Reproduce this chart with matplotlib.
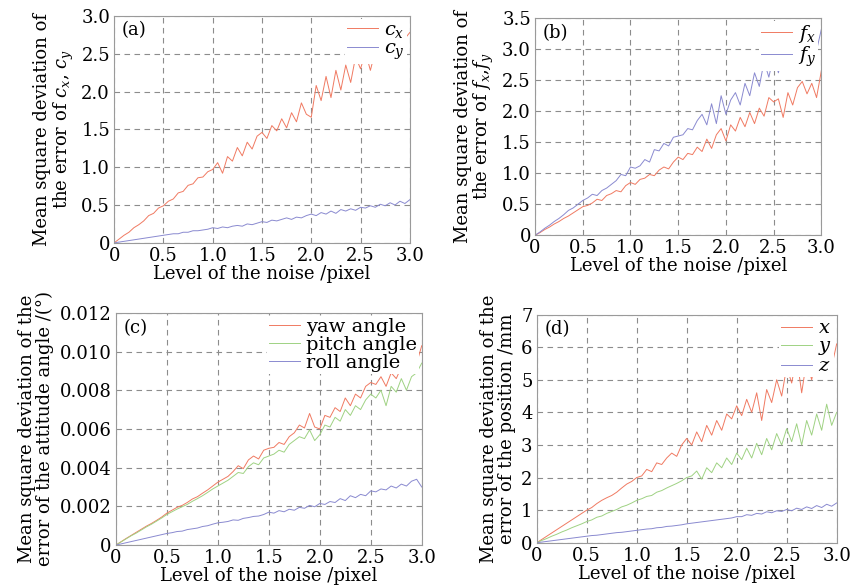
import numpy as np
import matplotlib
matplotlib.use('Agg')
from matplotlib import pyplot as plt

plt.rcParams['font.family'] = 'DejaVu Serif'
plt.rcParams['mathtext.fontset'] = 'dejavuserif'

noise = np.arange(61) * 0.05  # level of the noise /pixel

# (a) principal point
cx = [0.00, 0.05, 0.10, 0.14, 0.20, 0.24, 0.29, 0.36, 0.39, 0.46, 0.49,
      0.55, 0.58, 0.66, 0.68, 0.76, 0.78, 0.86, 0.87, 0.94, 0.97,
      1.06, 0.92, 1.14, 1.08, 1.26, 1.15, 1.33, 1.24, 1.41, 1.46,
      1.38, 1.55, 1.48, 1.64, 1.52, 1.72, 1.60, 1.85, 1.70, 1.66,
      2.08, 1.88, 2.20, 1.92, 2.28, 2.02, 2.35, 2.12, 2.46, 2.30,
      2.52, 2.28, 2.54, 2.40, 2.57, 2.42, 2.62, 2.56, 2.70, 2.78]
cy = [0.00, 0.01, 0.02, 0.03, 0.04, 0.05, 0.06, 0.07, 0.08, 0.09, 0.10,
      0.11, 0.12, 0.12, 0.14, 0.14, 0.16, 0.16, 0.17, 0.18, 0.20,
      0.19, 0.21, 0.20, 0.22, 0.23, 0.22, 0.25, 0.24, 0.26, 0.28,
      0.27, 0.30, 0.29, 0.31, 0.33, 0.31, 0.34, 0.33, 0.36, 0.38,
      0.36, 0.40, 0.38, 0.42, 0.39, 0.44, 0.42, 0.45, 0.43, 0.47,
      0.46, 0.49, 0.47, 0.51, 0.49, 0.53, 0.50, 0.55, 0.52, 0.57]

# (b) focal length
fx = [0.00, 0.04, 0.09, 0.13, 0.18, 0.22, 0.27, 0.31, 0.36, 0.41, 0.46,
      0.48, 0.52, 0.58, 0.56, 0.64, 0.67, 0.72, 0.70, 0.80, 0.85,
      0.82, 0.90, 0.92, 0.98, 0.96, 1.05, 1.10, 1.07, 1.18, 1.26,
      1.22, 1.32, 1.30, 1.42, 1.35, 1.55, 1.40, 1.62, 1.72, 1.52,
      1.78, 1.68, 1.90, 1.75, 1.98, 1.80, 2.05, 1.92, 2.22, 2.15,
      2.20, 1.90, 2.30, 2.10, 2.38, 2.48, 2.28, 2.45, 2.22, 2.65]
fy = [0.00, 0.05, 0.11, 0.16, 0.22, 0.27, 0.33, 0.40, 0.44, 0.50, 0.56,
      0.60, 0.66, 0.64, 0.72, 0.76, 0.82, 0.88, 0.98, 0.96, 1.10,
      1.08, 1.12, 1.22, 1.18, 1.38, 1.36, 1.48, 1.44, 1.58, 1.60,
      1.62, 1.72, 1.70, 1.85, 1.95, 1.78, 2.12, 1.80, 2.25, 1.95,
      2.18, 2.30, 2.10, 2.45, 2.25, 2.62, 2.40, 2.80, 2.55, 2.90,
      2.62, 2.95, 2.70, 2.92, 2.88, 3.00, 2.82, 3.00, 2.98, 3.32]

# (c) attitude angle, in 1e-3 degree
yaw = [0, 0.17, 0.34, 0.50, 0.66, 0.82, 0.98, 1.12, 1.28, 1.45, 1.65,
       1.80, 1.95, 2.05, 2.20, 2.38, 2.50, 2.68, 2.85, 3.05, 3.25,
       3.40, 3.55, 3.80, 4.10, 3.95, 4.40, 4.60, 4.45, 4.90, 5.00,
       5.05, 5.30, 5.20, 5.60, 5.80, 6.20, 6.05, 6.80, 6.10, 6.00,
       6.70, 6.60, 7.10, 6.90, 7.60, 7.20, 7.80, 7.60, 8.20, 8.40,
       8.30, 8.70, 8.20, 8.90, 8.60, 9.20, 9.00, 9.50, 9.40, 10.30]
pitch = [0, 0.16, 0.32, 0.48, 0.62, 0.78, 0.94, 1.08, 1.24, 1.40, 1.58,
         1.72, 1.86, 1.98, 2.10, 2.26, 2.40, 2.55, 2.72, 2.90, 3.05,
         3.20, 3.35, 3.55, 3.75, 3.70, 4.05, 4.25, 4.15, 4.50, 4.60,
         4.70, 4.90, 4.80, 5.20, 5.40, 5.60, 5.50, 5.95, 5.40, 5.70,
         6.20, 6.10, 6.60, 6.40, 7.00, 6.70, 7.20, 7.00, 7.50, 7.80,
         7.60, 8.00, 7.20, 8.20, 7.90, 8.60, 8.00, 8.70, 8.90, 9.40]
roll = [0, 0.06, 0.12, 0.18, 0.24, 0.30, 0.36, 0.42, 0.48, 0.54, 0.60,
        0.64, 0.70, 0.72, 0.80, 0.84, 0.88, 0.96, 1.00, 1.08, 1.15,
        1.18, 1.22, 1.30, 1.28, 1.38, 1.42, 1.48, 1.50, 1.58, 1.70,
        1.65, 1.78, 1.72, 1.85, 1.80, 1.95, 1.90, 2.05, 1.98, 2.15,
        2.10, 2.25, 2.20, 2.40, 2.30, 2.55, 2.45, 2.62, 2.55, 2.80,
        2.75, 2.90, 2.85, 3.05, 2.95, 3.15, 3.05, 3.30, 3.40, 3.00]

# (d) position /mm
px = [0, 0.10, 0.20, 0.30, 0.40, 0.50, 0.60, 0.70, 0.80, 0.90, 1.00,
      1.08, 1.20, 1.30, 1.38, 1.45, 1.55, 1.68, 1.80, 1.88, 2.00,
      2.05, 2.25, 2.18, 2.45, 2.40, 2.60, 2.75, 2.65, 3.00, 3.20,
      3.00, 3.40, 3.10, 3.60, 3.30, 3.75, 3.45, 3.95, 3.80, 4.20,
      3.90, 4.40, 4.00, 4.60, 3.75, 4.70, 4.30, 5.00, 4.50, 5.40,
      4.90, 5.70, 4.60, 5.60, 5.00, 5.75, 5.20, 5.80, 5.40, 6.10]
py = [0, 0.07, 0.13, 0.20, 0.26, 0.33, 0.39, 0.46, 0.52, 0.58, 0.65,
      0.70, 0.78, 0.82, 0.90, 0.96, 1.02, 1.10, 1.15, 1.22, 1.30,
      1.35, 1.42, 1.45, 1.55, 1.60, 1.68, 1.75, 1.82, 1.90, 2.00,
      2.05, 2.20, 1.95, 2.30, 2.15, 2.45, 2.30, 2.60, 2.40, 2.75,
      2.55, 2.90, 2.60, 3.05, 2.70, 3.20, 2.85, 3.35, 3.00, 3.50,
      3.10, 3.65, 3.00, 3.75, 3.30, 3.95, 3.45, 4.25, 3.60, 4.00]
pz = [0, 0.02, 0.04, 0.06, 0.08, 0.10, 0.12, 0.14, 0.16, 0.18, 0.20,
      0.22, 0.23, 0.25, 0.27, 0.29, 0.31, 0.32, 0.34, 0.36, 0.38,
      0.40, 0.42, 0.43, 0.46, 0.47, 0.50, 0.51, 0.53, 0.55, 0.58,
      0.60, 0.62, 0.64, 0.66, 0.68, 0.70, 0.72, 0.74, 0.76, 0.80,
      0.80, 0.86, 0.84, 0.90, 0.88, 0.95, 0.92, 0.98, 0.96, 1.02,
      0.98, 1.06, 1.02, 1.10, 1.05, 1.14, 1.08, 1.18, 1.12, 1.22]

red = '#f07a62'
blue = '#8a8ad0'
green = '#9fd283'

fig = plt.figure(figsize=(8.52, 5.88), dpi=100)
ax_a = fig.add_axes([0.134, 0.587, 0.347, 0.386])
ax_b = fig.add_axes([0.628, 0.600, 0.336, 0.369])
ax_c = fig.add_axes([0.136, 0.073, 0.359, 0.395])
ax_d = fig.add_axes([0.630, 0.077, 0.352, 0.388])


def style(ax, yticks, yfmt, tag, ylabel):
    ax.set_xlim(0, 3.0)
    ax.set_ylim(yticks[0], yticks[-1])
    ax.set_xticks([0, 0.5, 1.0, 1.5, 2.0, 2.5, 3.0])
    ax.set_xticklabels(['0', '0.5', '1.0', '1.5', '2.0', '2.5', '3.0'])
    ax.set_yticks(yticks)
    ax.set_yticklabels(['0'] + [yfmt % v for v in yticks[1:]])
    ax.tick_params(length=0, labelsize=13, pad=3)
    ax.grid(True, linestyle=(0, (5, 4)), color='#8c8c8c', linewidth=0.8)
    for s in ax.spines.values():
        s.set_color('#9a9a9a')
    ax.set_xlabel('Level of the noise /pixel', fontsize=13, labelpad=0)
    ax.set_ylabel(ylabel, fontsize=13, linespacing=1.0, labelpad=4)
    ax.text(0.025, 0.975, tag, transform=ax.transAxes, fontsize=13,
            va='top', ha='left')


def legend(ax):
    leg = ax.legend(loc='upper right', fontsize=14, handlelength=1.6,
                    labelspacing=0.0, borderpad=0.1, handletextpad=0.3,
                    borderaxespad=0.15, frameon=True, fancybox=False,
                    framealpha=1)
    leg.get_frame().set_edgecolor('none')
    leg.get_frame().set_facecolor('white')


lw = 0.7
ax_a.plot(noise, cx, color=red, lw=lw, label='$c_x$')
ax_a.plot(noise, cy, color=blue, lw=lw, label='$c_y$')
style(ax_a, [0, 0.5, 1.0, 1.5, 2.0, 2.5, 3.0], '%.1f', '(a)',
      'Mean square deviation of\nthe error of $c_x$, $c_y$')
legend(ax_a)

ax_b.plot(noise, fx, color=red, lw=lw, label='$f_x$')
ax_b.plot(noise, fy, color=blue, lw=lw, label='$f_y$')
style(ax_b, [0, 0.5, 1.0, 1.5, 2.0, 2.5, 3.0, 3.5], '%.1f', '(b)',
      'Mean square deviation of\nthe error of $f_x$,$f_y$')
legend(ax_b)

ax_c.plot(noise, np.array(yaw) * 1e-3, color=red, lw=lw, label='yaw angle')
ax_c.plot(noise, np.array(pitch) * 1e-3, color=green, lw=lw, label='pitch angle')
ax_c.plot(noise, np.array(roll) * 1e-3, color=blue, lw=lw, label='roll angle')
style(ax_c, [0, 0.002, 0.004, 0.006, 0.008, 0.010, 0.012], '%.3f', '(c)',
      'Mean square deviation of the\nerror of the attitude angle /(\u00b0)')
legend(ax_c)

ax_d.plot(noise, px, color=red, lw=lw, label='$x$')
ax_d.plot(noise, py, color=green, lw=lw, label='$y$')
ax_d.plot(noise, pz, color=blue, lw=lw, label='$z$')
style(ax_d, [0, 1, 2, 3, 4, 5, 6, 7], '%d', '(d)',
      'Mean square deviation of the\nerror of the position /mm')
legend(ax_d)

fig.savefig('out.png', dpi=100)
